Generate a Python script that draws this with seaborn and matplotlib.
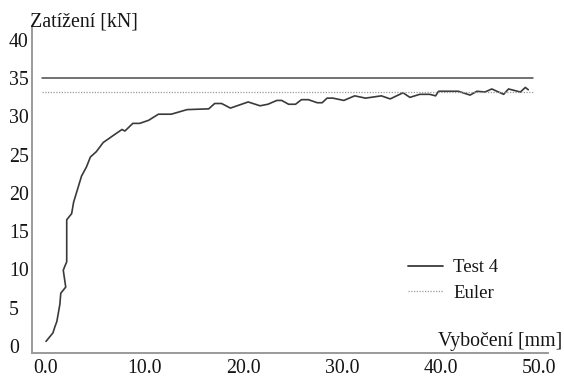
import matplotlib
matplotlib.use("Agg")
import matplotlib.pyplot as plt
import seaborn as sns
import pandas as pd
from matplotlib.lines import Line2D

# Measured load–deflection curve (Test 4)
deflection_mm = [0.0, 0.7, 0.9, 1.1, 1.25, 1.4, 1.5, 2.0, 1.75, 1.9, 2.1, 2.1, 2.6, 2.8,
                 3.2, 3.6, 4.1, 4.5, 5.1, 5.8, 6.8, 7.7, 8.0, 8.8, 9.5, 10.4, 11.4, 12.7,
                 14.3, 16.5, 17.1, 17.8, 18.7, 20.5, 21.7, 22.5, 23.4, 23.9, 24.6, 25.3,
                 25.9, 26.6, 27.5, 28.0, 28.5, 29.1, 30.2, 31.3, 32.4, 34.0, 34.9, 36.2,
                 36.9, 37.9, 38.9, 39.5, 39.8, 41.8, 43.0, 43.7, 44.5, 45.2, 46.4, 46.9,
                 48.1, 48.6, 48.9]
load_kn = [0.6, 1.7, 2.5, 3.2, 4.3, 5.4, 6.9, 7.7, 9.9, 10.4, 11.0, 16.5, 17.3, 18.8,
           20.5, 22.2, 23.4, 24.7, 25.4, 26.6, 27.5, 28.3, 28.1, 29.1, 29.1, 29.5, 30.3,
           30.3, 30.9, 31.0, 31.7, 31.7, 31.1, 31.9, 31.4, 31.6, 32.1, 32.1, 31.6, 31.6,
           32.2, 32.2, 31.8, 31.8, 32.4, 32.4, 32.1, 32.7, 32.4, 32.7, 32.3, 33.1, 32.5,
           32.9, 32.9, 32.7, 33.3, 33.3, 32.8, 33.3, 33.2, 33.6, 32.9, 33.6, 33.2, 33.8,
           33.5]

# Reference load levels
limit_load_kn = 35.0
euler_load_kn = 33.2
ref_span_mm = [-0.4, 49.4]

x_ticks = [0, 10, 20, 30, 40, 50]
y_ticks = [0, 5, 10, 15, 20, 25, 30, 35, 40]

series_label = "Test 4"
euler_label = "Euler"
x_label = "Vybočení [mm]"
y_label = "Zatížení [kN]"

sns.set_theme(style="white")
plt.rcParams["font.family"] = ["Liberation Serif", "DejaVu Serif"]

TEXT = "#151515"
FS = 14.3

fig = plt.figure(figsize=(5.64, 3.78), dpi=100)
ax = fig.add_axes([32 / 564, 1 - 353 / 378, (548 - 32) / 564, (353 - 28) / 378])

df = pd.DataFrame({"x": deflection_mm, "y": load_kn})
sns.lineplot(data=df, x="x", y="y", sort=False, estimator=None, ax=ax,
             color="#3a3a3a", linewidth=1.2)

ref_df = pd.DataFrame({
    "x": ref_span_mm * 2,
    "y": [limit_load_kn] * 2 + [euler_load_kn] * 2,
    "kind": ["limit"] * 2 + ["euler"] * 2,
})
sns.lineplot(data=ref_df[ref_df.kind == "limit"], x="x", y="y", ax=ax,
             color="#4a4a4a", linewidth=1.1)
sns.lineplot(data=ref_df[ref_df.kind == "euler"], x="x", y="y", ax=ax,
             color="#9a9a9a", linewidth=0.9, linestyle=(0, (1, 1.2)))

ax.set_xlim(-1.42, 50.9)
ax.set_ylim(-0.92, 41.57)
ax.set_xticks(x_ticks)
ax.set_xticklabels([f"{v:.1f}" for v in x_ticks])
ax.set_yticks(y_ticks)
ax.set_yticklabels([str(v) for v in y_ticks])
for lbl in ax.get_yticklabels():
    lbl.set_horizontalalignment("left")
ax.tick_params(axis="both", length=0, labelsize=FS, colors=TEXT)
ax.tick_params(axis="y", pad=16.5)
ax.tick_params(axis="x", pad=4.5)
ax.set_xlabel("")
ax.set_ylabel("")

for side in ["top", "right"]:
    ax.spines[side].set_visible(False)
for side in ["left", "bottom"]:
    ax.spines[side].set_color("#9a9a9a")
    ax.spines[side].set_linewidth(1.4)

fig.text(30 / 564, 1 - 26 / 378, y_label, fontsize=FS, ha="left", va="baseline",
         color=TEXT)
fig.text(562 / 564, 1 - 346 / 378, x_label, fontsize=FS, ha="right", va="baseline",
         color=TEXT)

handles = [
    Line2D([], [], color="#3a3a3a", linewidth=1.3),
    Line2D([], [], color="#9a9a9a", linewidth=0.9, linestyle=(0, (1, 1.2))),
]
ax.legend(handles, [series_label, euler_label], loc="upper left",
          bbox_to_anchor=(408 / 564, 1 - 259 / 378), bbox_transform=fig.transFigure,
          frameon=False, fontsize=13.5, handlelength=1.85, handletextpad=0.55,
          borderpad=0, borderaxespad=0, labelspacing=0.45, labelcolor=TEXT)

fig.savefig("out.png", dpi=100, facecolor="white")
